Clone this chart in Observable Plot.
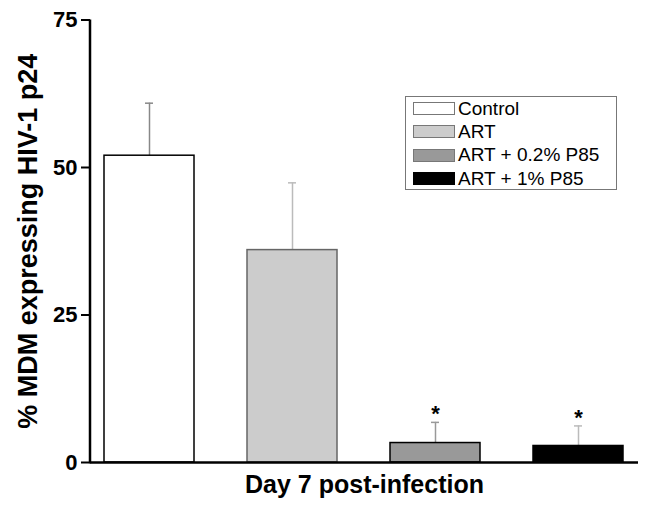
<!DOCTYPE html>
<html><head><meta charset="utf-8">
<script src="https://cdn.jsdelivr.net/npm/d3@7"></script>
<script src="https://cdn.jsdelivr.net/npm/@observablehq/plot@0.6"></script>
<style>
body{margin:0;background:#fff;font-family:"Liberation Sans",Arial,sans-serif}
#wrap{position:relative;width:646px;height:513px}
#legend{position:absolute;left:405px;top:96px;width:212px;height:94px;border:1px solid #777;box-sizing:border-box;background:#fff}
.row{display:flex;align-items:center;height:23.3px;font-size:19px;color:#000}
.sw{width:40px;height:11px;border:1px solid #777;margin-left:7px;margin-right:3px}
</style></head><body><div id="wrap"></div>
<script>
const categories = ["Control", "ART", "ART + 0.2% P85", "ART + 1% P85"];
const means = [52, 36, 3.3, 2.8];
const upperErrors = [60.9, 47.4, 6.8, 6.2];
const significant = [false, false, true, true];
const yTicks = [0, 25, 50, 75];
const xTitle = "Day 7 post-infection";
const yTitle = "% MDM expressing HIV-1 p24";

const fills = ["#ffffff", "#cccccc", "#999999", "#000000"];
const strokes = ["#000000", "#666666", "#000000", "#000000"];
const errColors = ["#888888", "#bbbbbb", "#999999", "#bbbbbb"];

const rows = categories.map((name, i) => ({name, value: means[i], hi: upperErrors[i], sig: significant[i]}));

const marks = [];
rows.forEach((r, i) => {
  marks.push(Plot.ruleX([r], {x: "name", y1: "value", y2: "hi", stroke: errColors[i], strokeWidth: 1.5}));
  marks.push(Plot.tickY([r], {x: "name", y: "hi", stroke: errColors[i], strokeWidth: 1.5, insetLeft: 41, insetRight: 41}));
  marks.push(Plot.barY([r], {x: "name", y: "value", fill: fills[i], stroke: strokes[i], strokeWidth: 1.5}));
});
marks.push(Plot.text(rows.filter(d => d.sig), {x: "name", y: "hi", text: () => "*", dy: -8, fontSize: 22, fontWeight: "bold", fill: "#000"}));
marks.push(Plot.ruleY([0], {stroke: "#000", strokeWidth: 2.5}));
marks.push(Plot.axisY({ticks: yTicks, tickSize: 9, tickPadding: 4, fontSize: 22, fontWeight: "bold", stroke: "#000", strokeWidth: 2, label: null, color: "#000"}));
marks.push(Plot.text([yTitle], {frameAnchor: "left", rotate: -90, dx: -62, textAnchor: "middle", fontSize: 27, fontWeight: "bold", fill: "#000"}));
marks.push(Plot.text([xTitle], {frameAnchor: "bottom", dy: 30, textAnchor: "middle", fontSize: 25, fontWeight: "bold", fill: "#000"}));

const chart = Plot.plot({
  width: 646,
  height: 513,
  marginLeft: 90,
  marginRight: 8,
  marginTop: 19.5,
  marginBottom: 51,
  style: {fontFamily: "'Liberation Sans', Arial, sans-serif", background: "#fff", overflow: "visible"},
  x: {domain: categories, range: [76.3, 649.7], paddingInner: 0.372, paddingOuter: 0.186, axis: null},
  y: {domain: [0, 75], axis: null},
  marks
});

const wrap = document.getElementById("wrap");
wrap.appendChild(chart);
const svg = d3.select(chart);
const yScale = chart.scale("y");
// Y-axis line drawn along the scale's extent
svg.append("line").attr("x1", 90).attr("x2", 90).attr("y1", yScale.apply(75)).attr("y2", yScale.apply(0) + 1.25).attr("stroke", "#000").attr("stroke-width", 2.5);

const legend = document.createElement("div");
legend.id = "legend";
categories.forEach((c, i) => {
  const row = document.createElement("div");
  row.className = "row";
  const sw = document.createElement("div");
  sw.className = "sw";
  sw.style.background = fills[i];
  if (i === 3) sw.style.borderColor = "#000";
  const t = document.createElement("span");
  t.textContent = c;
  row.appendChild(sw); row.appendChild(t);
  legend.appendChild(row);
});
wrap.appendChild(legend);
</script>
</body></html>
